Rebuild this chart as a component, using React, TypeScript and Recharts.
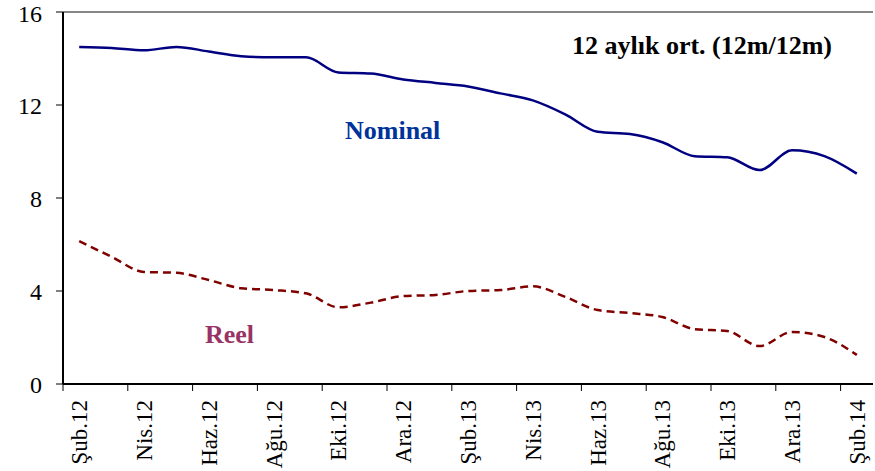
import { LineChart, Line, XAxis, YAxis, ReferenceLine } from 'recharts';

const months = [
  'Şub.12', 'Mar.12', 'Nis.12', 'May.12', 'Haz.12', 'Tem.12', 'Ağu.12', 'Eyl.12', 'Eki.12',
  'Kas.12', 'Ara.12', 'Oca.13', 'Şub.13', 'Mar.13', 'Nis.13', 'May.13', 'Haz.13', 'Tem.13',
  'Ağu.13', 'Eyl.13', 'Eki.13', 'Kas.13', 'Ara.13', 'Oca.14', 'Şub.14',
];

const nominal = [
  14.5, 14.45, 14.35, 14.5, 14.3, 14.1, 14.05, 14.05, 13.4, 13.35, 13.1, 12.95, 12.8,
  12.5, 12.2, 11.6, 10.85, 10.75, 10.4, 9.8, 9.75, 9.2, 10.05, 9.8, 9.05,
];

const reel = [
  6.15, 5.47, 4.82, 4.78, 4.47, 4.12, 4.04, 3.9, 3.3, 3.5, 3.78, 3.83, 4.0,
  4.04, 4.2, 3.75, 3.18, 3.05, 2.88, 2.36, 2.28, 1.63, 2.24, 2.02, 1.25,
];

const yTicks = [0, 4, 8, 12, 16];

const data = months.map((ay, i) => ({ ay, nominal: nominal[i], reel: reel[i] }));

const W = 875;
const H = 471;
const LEFT = 63;
const RIGHT = 2;
const HALF = (W - LEFT - RIGHT) / months.length / 2;
const font = '"Liberation Serif", "Times New Roman", serif';

function XTick(props: any) {
  const { x, y, payload } = props;
  return (
    <g>
      <line x1={x - HALF} x2={x - HALF} y1={y} y2={y + 7} stroke="#000" strokeWidth={1} />
      <text
        x={0}
        y={0}
        transform={`translate(${x + 8},${y + 16}) rotate(-90)`}
        textAnchor="end"
        fontSize={23}
        fontFamily={font}
        fill="#000"
      >
        {payload.value}
      </text>
    </g>
  );
}

const label = { position: 'absolute' as const, fontFamily: font, fontWeight: 'bold', fontSize: 26, lineHeight: '26px', whiteSpace: 'nowrap' as const };

export default function App() {
  return (
    <div style={{ position: 'absolute', left: 0, top: 0, width: W, height: H, background: '#fff' }}>
      <LineChart width={W} height={H} data={data} margin={{ top: 12, right: RIGHT, left: 0, bottom: 0 }}>
        <XAxis
          dataKey="ay"
          height={87}
          interval={1}
          padding={{ left: HALF, right: HALF }}
          axisLine={{ stroke: '#000', strokeWidth: 2 }}
          tickLine={false}
          tickSize={0}
          tickMargin={0}
          tick={<XTick />}
        />
        <YAxis
          width={LEFT}
          domain={[0, 16]}
          ticks={yTicks}
          axisLine={{ stroke: '#000', strokeWidth: 2 }}
          tickLine={{ stroke: '#000' }}
          tickSize={7}
          tickMargin={14}
          tick={{ fill: '#000', fontSize: 24, fontFamily: font }}
        />
        <YAxis
          yAxisId="r"
          orientation="right"
          width={0}
          domain={[0, 16]}
          tick={false}
          tickLine={false}
          axisLine={{ stroke: '#878787', strokeWidth: 2 }}
        />
        <ReferenceLine y={16} stroke="#878787" strokeWidth={2} />
        <Line
          type="monotone"
          dataKey="nominal"
          stroke="#000080"
          strokeWidth={2.5}
          dot={false}
          isAnimationActive={false}
        />
        <Line
          type="monotone"
          dataKey="reel"
          stroke="#800000"
          strokeWidth={2.5}
          strokeDasharray="8 5"
          dot={false}
          isAnimationActive={false}
        />
      </LineChart>
      <div style={{ ...label, left: 572, top: 33, color: '#000' }}>12 aylık ort. (12m/12m)</div>
      <div style={{ ...label, left: 345, top: 118, color: '#003399' }}>Nominal</div>
      <div style={{ ...label, left: 205, top: 322, color: '#993366' }}>Reel</div>
    </div>
  );
}
